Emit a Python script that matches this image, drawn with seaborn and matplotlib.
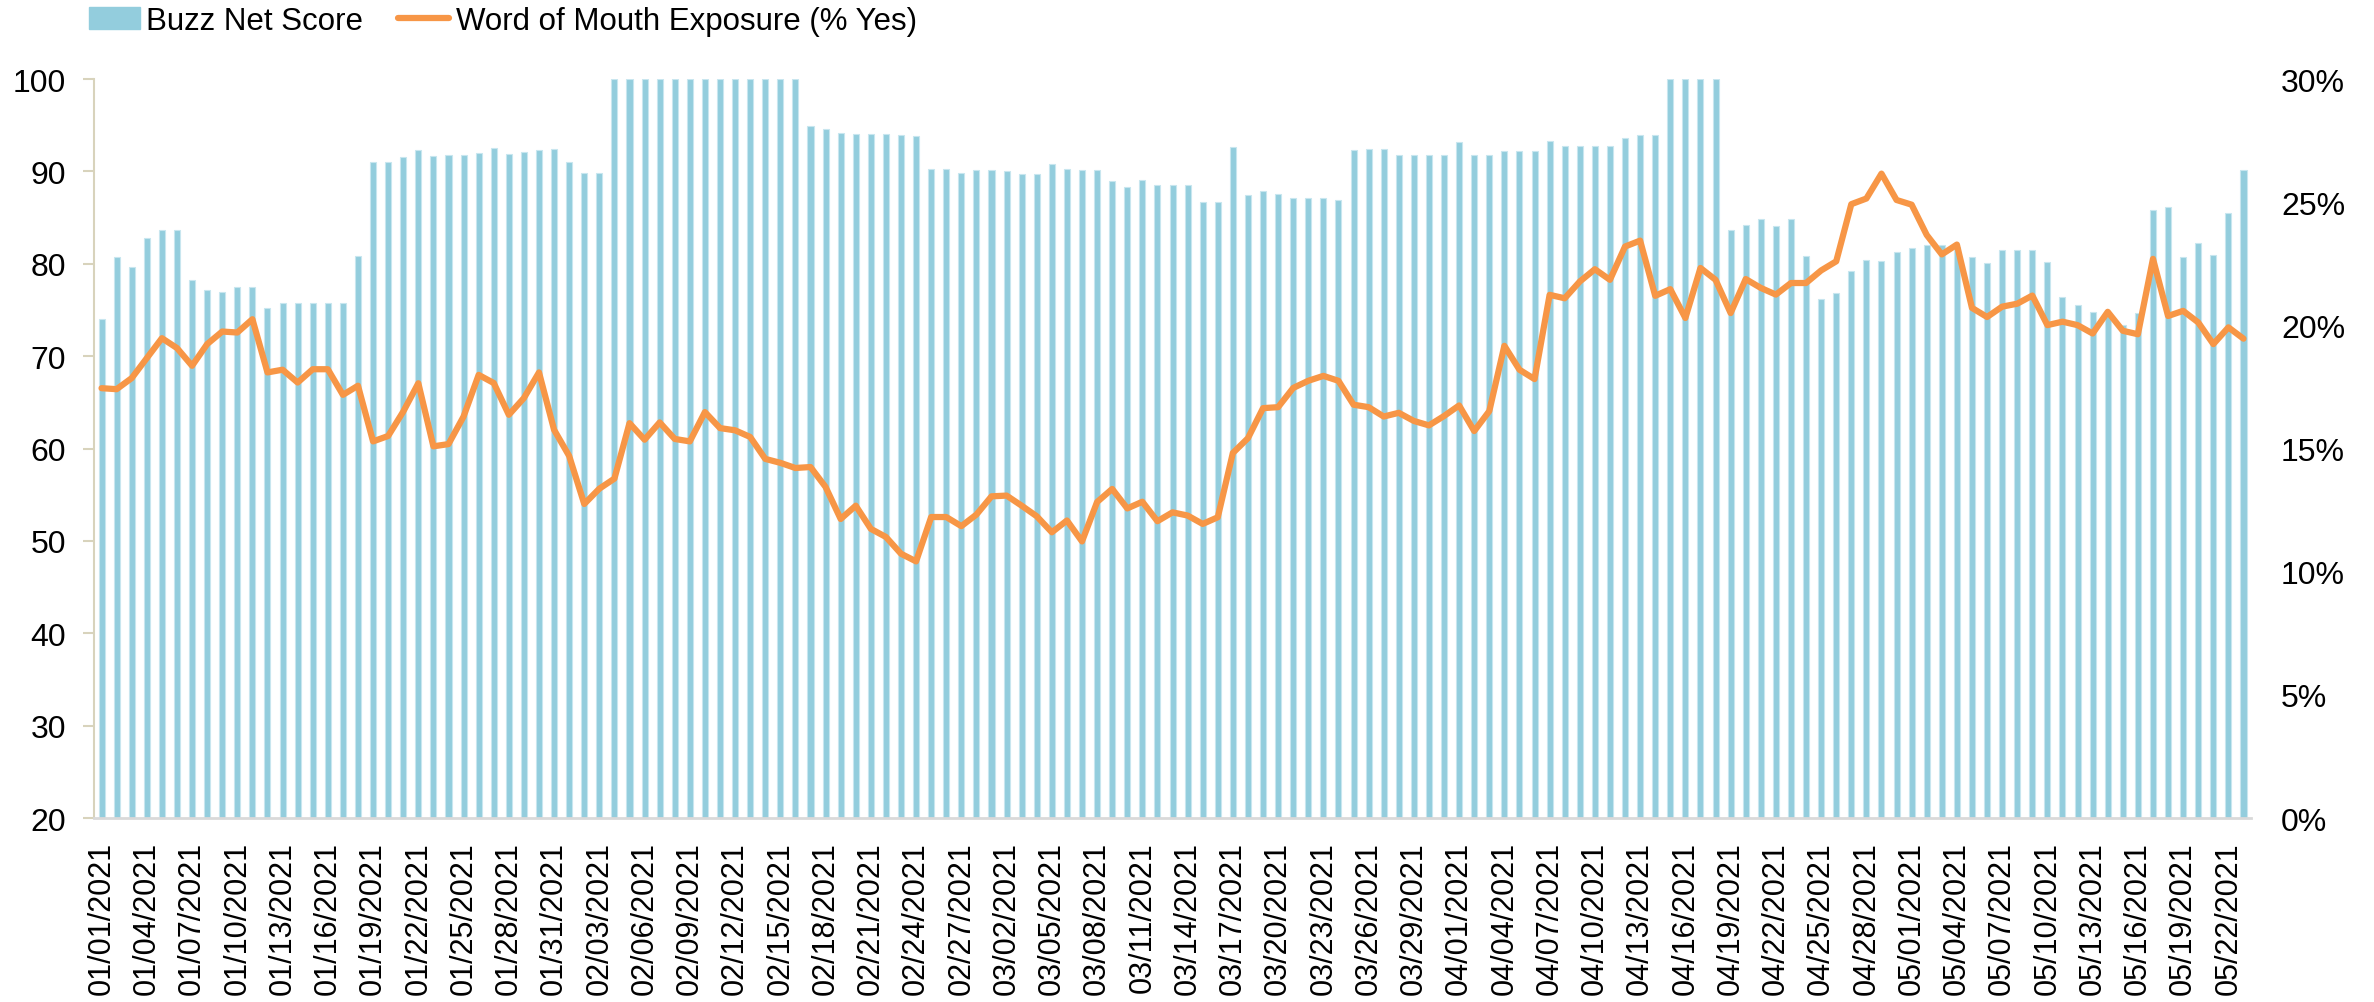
import matplotlib
matplotlib.use('Agg')
import matplotlib.pyplot as plt
import numpy as np
import pandas as pd
import seaborn as sns
from matplotlib.patches import Patch
from matplotlib.lines import Line2D
from matplotlib.ticker import FuncFormatter

# Daily data, 01/01/2021 - 05/23/2021
start_date = '2021-01-01'

buzz_net_score = [
    74.0, 80.7, 79.7, 82.8, 83.7, 83.7, 78.2, 77.2, 77.0, 77.5,
    77.5, 75.2, 75.8, 75.8, 75.8, 75.8, 75.8, 80.8, 91.0, 91.0,
    91.6, 92.3, 91.7, 91.8, 91.8, 92.0, 92.5, 91.9, 92.1, 92.3,
    92.4, 91.0, 89.8, 89.8, 100, 100, 100, 100, 100, 100,
    100, 100, 100, 100, 100, 100, 100, 94.9, 94.6, 94.2,
    94.1, 94.1, 94.1, 93.9, 93.8, 90.3, 90.3, 89.8, 90.2, 90.2,
    90.0, 89.7, 89.7, 90.8, 90.3, 90.1, 90.1, 89.0, 88.3, 89.1,
    88.5, 88.5, 88.5, 86.7, 86.7, 92.6, 87.4, 87.9, 87.6, 87.1,
    87.1, 87.1, 86.9, 92.3, 92.4, 92.4, 91.8, 91.8, 91.8, 91.8,
    93.2, 91.8, 91.8, 92.2, 92.2, 92.2, 93.3, 92.8, 92.8, 92.8,
    92.8, 93.6, 93.9, 93.9, 100, 100, 100, 100, 83.7, 84.2,
    84.9, 84.1, 84.9, 80.8, 76.2, 76.8, 79.2, 80.4, 80.3, 81.3,
    81.7, 82.0, 82.0, 81.8, 80.7, 80.1, 81.5, 81.5, 81.5, 80.2,
    76.4, 75.5, 74.8, 74.3, 73.4, 74.7, 85.8, 86.1, 80.7, 82.2,
    80.9, 85.5, 90.2,
]

word_of_mouth_pct = [
    17.45, 17.41, 17.86, 18.67, 19.48, 19.08, 18.36, 19.24, 19.75, 19.71,
    20.25, 18.09, 18.20, 17.68, 18.22, 18.22, 17.18, 17.55, 15.29, 15.51,
    16.50, 17.65, 15.09, 15.18, 16.30, 17.99, 17.66, 16.37, 17.05, 18.09,
    15.76, 14.70, 12.75, 13.37, 13.78, 16.03, 15.36, 16.06, 15.39, 15.29,
    16.48, 15.83, 15.74, 15.47, 14.58, 14.42, 14.21, 14.25, 13.44, 12.14,
    12.68, 11.74, 11.41, 10.73, 10.42, 12.22, 12.22, 11.85, 12.32, 13.06,
    13.09, 12.68, 12.25, 11.60, 12.08, 11.23, 12.83, 13.36, 12.57, 12.84,
    12.05, 12.41, 12.28, 11.94, 12.21, 14.82, 15.42, 16.64, 16.68, 17.46,
    17.75, 17.95, 17.75, 16.78, 16.68, 16.30, 16.45, 16.12, 15.94, 16.32,
    16.75, 15.71, 16.52, 19.17, 18.20, 17.82, 21.24, 21.10, 21.78, 22.28,
    21.85, 23.20, 23.44, 21.20, 21.47, 20.30, 22.33, 21.85, 20.50, 21.88,
    21.52, 21.25, 21.72, 21.72, 22.23, 22.60, 24.92, 25.15, 26.16, 25.09,
    24.90, 23.67, 22.88, 23.28, 20.71, 20.34, 20.76, 20.88, 21.21, 20.01,
    20.15, 20.01, 19.67, 20.55, 19.78, 19.64, 22.70, 20.38, 20.59, 20.12,
    19.24, 19.92, 19.46,
]

dates = pd.date_range(start_date, periods=len(buzz_net_score), freq='D')
date_labels = dates.strftime('%m/%d/%Y')

df = pd.DataFrame({'date': date_labels,
                   'pos': np.arange(len(dates)),
                   'buzz': buzz_net_score,
                   'wom': word_of_mouth_pct})

bar_color = '#93CDDD'
line_color = '#F79646'

sns.set_style('white')
plt.rcParams['font.family'] = ['Liberation Sans', 'DejaVu Sans']
plt.rcParams['text.color'] = 'black'

fig = plt.figure(figsize=(23.74, 10.03), dpi=100)
ax = fig.add_axes([0.0396, 0.1834, 0.9086, 0.7368])

sns.barplot(data=df, x='date', y='buzz', color=bar_color, width=0.4,
            edgecolor='#C8E6EF', linewidth=0.8, saturation=1, ax=ax)
ax.set_ylim(20, 100)
ax.set_yticks(range(20, 101, 10))
ax.set_xlim(-0.5, len(df) - 0.5)
ax.set_xticks(df['pos'][::3])
ax.set_xticklabels(df['date'][::3], rotation=90)
ax.set_xlabel('')
ax.set_ylabel('')

for s in ['top', 'right']:
    ax.spines[s].set_visible(False)
ax.spines['left'].set_color('#D8D3BC')
ax.spines['left'].set_linewidth(1.5)
ax.spines['bottom'].set_color('#D9D9D9')
ax.spines['bottom'].set_linewidth(2)
ax.tick_params(axis='y', which='major', left=True, direction='out', length=8,
               width=1.5, color='#D8D3BC', labelcolor='black', labelsize=23, pad=12)
ax.tick_params(axis='x', bottom=False, labelcolor='black', labelsize=22, pad=13)

ax2 = ax.twinx()
sns.lineplot(data=df, x='pos', y='wom', color=line_color, linewidth=4.5,
             ax=ax2, legend=False)
ax2.set_ylim(0, 30)
ax2.set_yticks(range(0, 31, 5))
ax2.yaxis.set_major_formatter(FuncFormatter(lambda v, p: f'{v:.0f}%'))
ax2.set_ylabel('')
for s in ['top', 'right', 'left', 'bottom']:
    ax2.spines[s].set_visible(False)
ax2.tick_params(axis='y', right=False, labelcolor='black', labelsize=23, pad=18)
ax2.set_xlim(-0.5, len(df) - 0.5)

handles = [Patch(facecolor=bar_color, edgecolor=bar_color),
           Line2D([0], [0], color=line_color, linewidth=4.5)]
fig.legend(handles, ['Buzz Net Score', 'Word of Mouth Exposure (% Yes)'],
           loc='upper left', bbox_to_anchor=(0.036, 0.996), ncol=2, frameon=False,
           fontsize=22.5, handlelength=1.65, handleheight=0.7, handletextpad=0.2,
           columnspacing=1.1, borderpad=0.1, borderaxespad=0)

fig.savefig('out.png', dpi=100)
